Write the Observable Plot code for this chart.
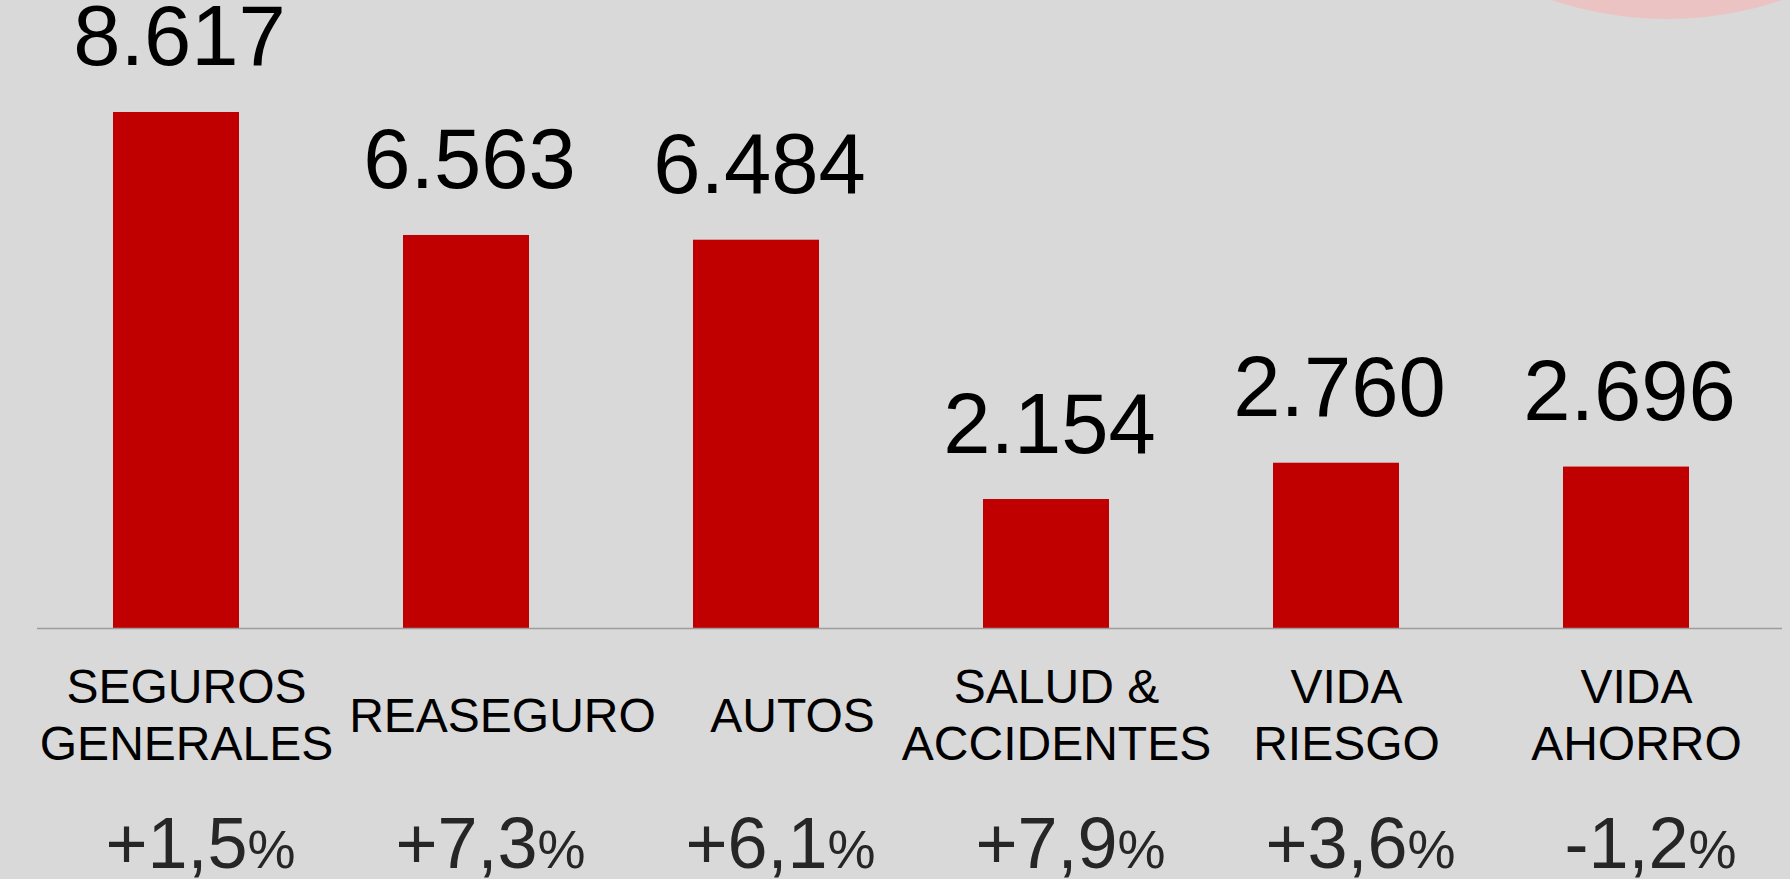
<!DOCTYPE html>
<html><head><meta charset="utf-8">
<script src="https://cdn.jsdelivr.net/npm/d3@7"></script>
<script src="https://cdn.jsdelivr.net/npm/@observablehq/plot@0.6"></script>
<style>
html,body{margin:0;padding:0;background:#d9d9d9;width:1790px;height:879px;overflow:hidden;position:relative}
#deco{position:absolute;left:1307px;top:-701px;width:720px;height:720px;border-radius:50%;background:#ebc3c3;}
#chart{position:absolute;left:0;top:0}
</style></head><body><div id="deco"></div><div id="chart"></div>
<script>
const categories = ["SEGUROS\nGENERALES","REASEGURO","AUTOS","SALUD &\nACCIDENTES","VIDA\nRIESGO","VIDA\nAHORRO"];
const values = [8617,6563,6484,2154,2760,2696];
const changes = [1.5,7.3,6.1,7.9,3.6,-1.2];

const es = d3.formatLocale({decimal:",", thousands:".", grouping:[3], currency:["","€"], minus:"-"});
const fmtVal = es.format(",");
const fmtPct = es.format("+.1f");
const data = categories.map((c,i)=>({cat:c, value:values[i], change:changes[i]}));
const oneLine = data.filter(d=>!d.cat.includes("\n"));
const twoLine = data.filter(d=>d.cat.includes("\n"));
const font = "'Liberation Sans', Arial, Helvetica, sans-serif";
const catStyle = {x:"cat", text:"cat", frameAnchor:"bottom", dy:85, lineAnchor:"middle", lineHeight:1.18, fontSize:48, fill:"#000"};

const plot = Plot.plot({
  width:1790, height:879, marginTop:0, marginBottom:251, marginLeft:37, marginRight:8,
  style:{background:"transparent", fontFamily: font, overflow:"visible"},
  x:{domain:categories, range:[29.9,1771.1], paddingInner:0.566, paddingOuter:0.283, axis:null},
  y:{domain:[0,10487], axis:null},
  marks:[
    Plot.barY(data,{x:"cat", y:"value", fill:"#c00000"}),
    Plot.ruleY([0],{stroke:"#9d9d9d", strokeWidth:1.5}),
    Plot.text(data,{x:"cat", y:"value", text:d=>fmtVal(d.value), dy:-47, dx:3, lineAnchor:"bottom", fontSize:85, fill:"#000"}),
    Plot.text(twoLine,{...catStyle, dx:10}),
    Plot.text(oneLine,{...catStyle, dx:36}),
    Plot.text(data,{x:"cat", text:d=>fmtPct(d.change)+"%", frameAnchor:"bottom", dy:239, dx:24, lineAnchor:"bottom", fontSize:72, fill:"#262626"})
  ]
});
document.getElementById("chart").appendChild(plot);
plot.querySelectorAll("text").forEach(t=>{
  const s = t.textContent;
  if (s.endsWith("%") && t.children.length===0) {
    const num = s.slice(0,-1);
    t.textContent = num;
    const ts = document.createElementNS("http://www.w3.org/2000/svg","tspan");
    ts.setAttribute("font-size","54");
    ts.textContent = "%";
    t.appendChild(ts);
  }
});
</script></body></html>
